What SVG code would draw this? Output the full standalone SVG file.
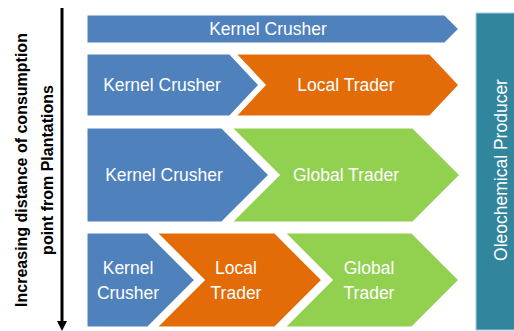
<svg xmlns="http://www.w3.org/2000/svg" width="514" height="331" viewBox="0 0 514 331">
<defs>
<style>
.blue{fill:#4F81BD;stroke:#fff;stroke-width:3;stroke-linejoin:miter}
.orange{fill:#E36C09;stroke:#fff;stroke-width:3}
.green{fill:#92D050;stroke:#fff;stroke-width:3}
.lbl{font-family:"Liberation Sans",Arial,sans-serif;font-size:17.5px;fill:#fff;text-anchor:middle}
.side{font-family:"Liberation Sans",Arial,sans-serif;font-size:16px;font-weight:bold;fill:#000;text-anchor:middle}
</style>
</defs>
<rect width="514" height="331" fill="#fff"/>
<g id="axis">
<line x1="62" y1="8" x2="62" y2="322" stroke="#000" stroke-width="3"/>
<polygon points="57,321 67,321 62,331" fill="#000"/>
<text class="side" transform="translate(27,170) rotate(-90)">Increasing distance of consumption</text>
<text class="side" transform="translate(53,170) rotate(-90)">point from Plantations</text>
</g>
<g id="row1">
<polygon class="blue" points="86,14 445,14 460,29 445,44 86,44"/>
<text class="lbl" x="268" y="35">Kernel Crusher</text>
</g>
<g id="row2-local">
<polygon class="orange" points="234,53 430,53 460,85 430,117 234,117 264,85"/>
<text class="lbl" x="346" y="91">Local Trader</text>
</g>
<g id="row2-kernel">
<polygon class="blue" points="86,53 230,53 260,85 230,117 86,117"/>
<text class="lbl" x="162" y="91">Kernel Crusher</text>
</g>
<g id="row3-global">
<polygon class="green" points="230,127 413,127 461,175 413,223 230,223 278,175"/>
<text class="lbl" x="346" y="181">Global Trader</text>
</g>
<g id="row3-kernel">
<polygon class="blue" points="86,127 222,127 270,175 222,223 86,223"/>
<text class="lbl" x="164" y="181">Kernel Crusher</text>
</g>
<g id="row4-global">
<polygon class="green" points="283,232 412,232 460,280 412,328 283,328 331,280"/>
<text class="lbl" x="369" y="274">Global</text>
<text class="lbl" x="369" y="299">Trader</text>
</g>
<g id="row4-local">
<polygon class="orange" points="155,232 275,232 323,280 275,328 155,328 203,280"/>
<text class="lbl" x="236" y="274">Local</text>
<text class="lbl" x="236" y="299">Trader</text>
</g>
<g id="row4-kernel">
<polygon class="blue" points="86,232 148,232 196,280 148,328 86,328"/>
<text class="lbl" x="128" y="274">Kernel</text>
<text class="lbl" x="128" y="299">Crusher</text>
</g>
<g id="producer">
<rect x="476" y="13" width="40" height="317" fill="#31859C" stroke="#A9CDD7" stroke-width="1"/>
<text class="lbl" transform="translate(507,170) rotate(-90)">Oleochemical Producer</text>
</g>
<g id="connectors"></g>
</svg>
